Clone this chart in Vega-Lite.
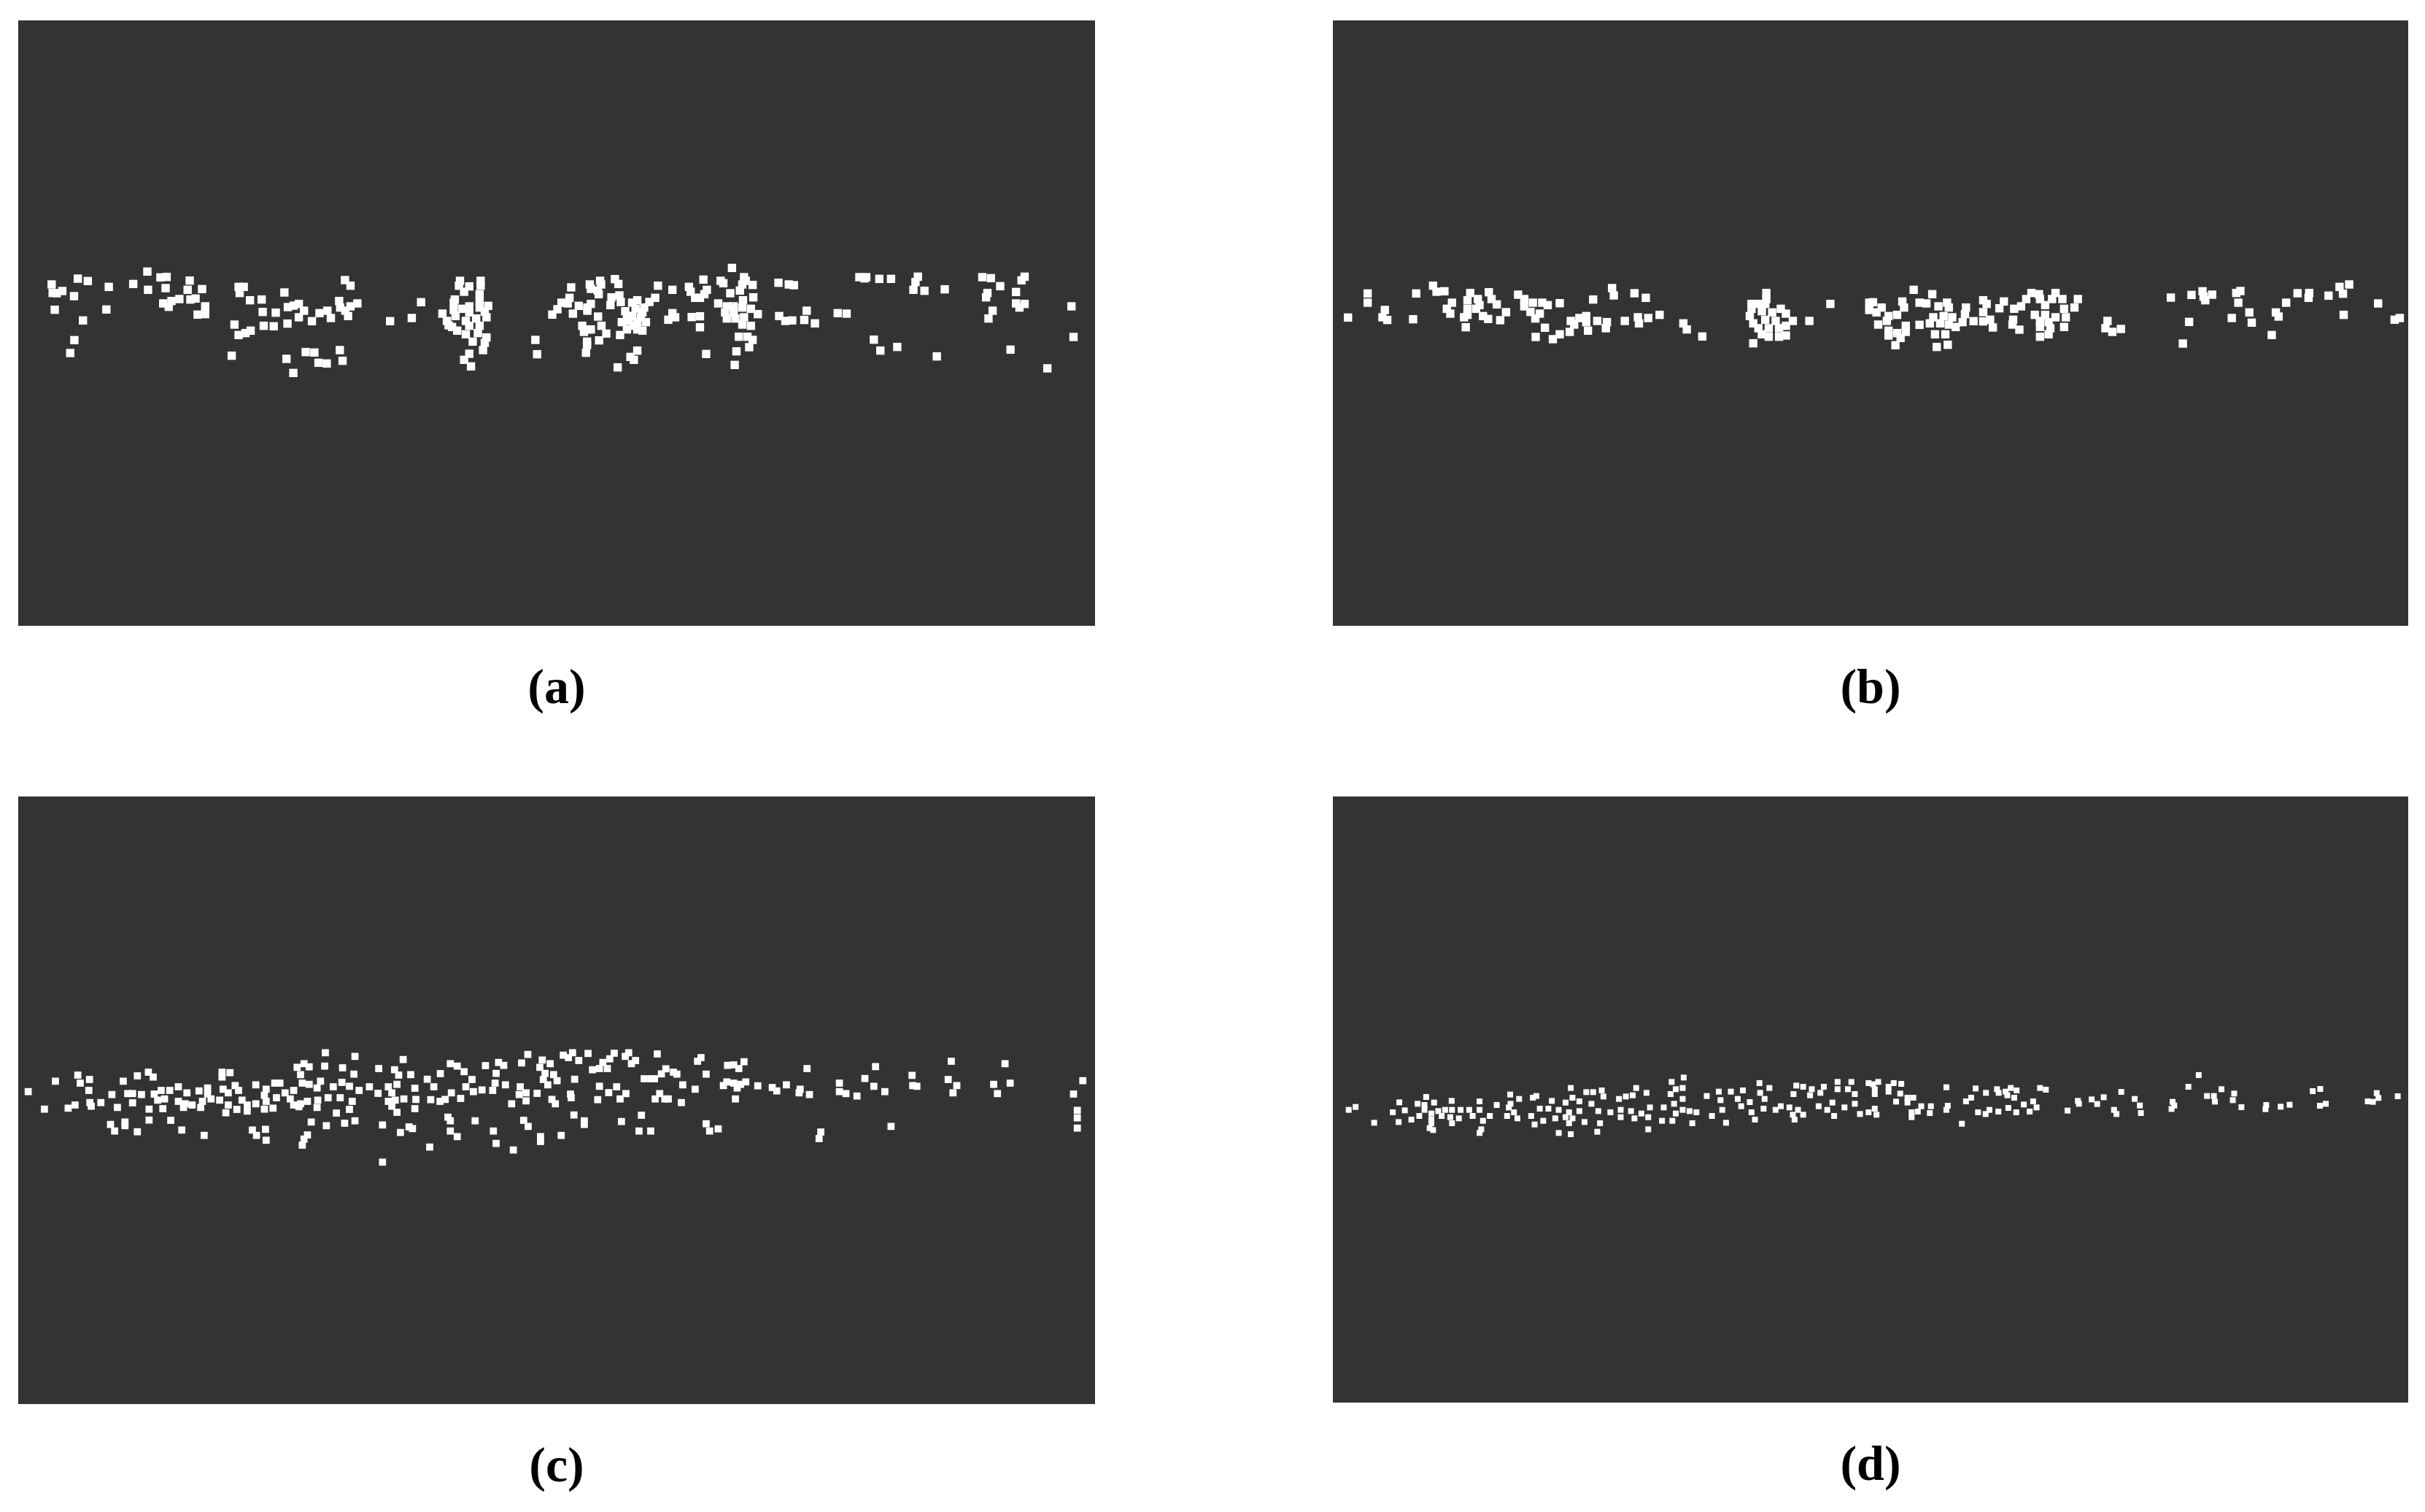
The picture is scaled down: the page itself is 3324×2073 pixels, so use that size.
{"$schema":"https://vega.github.io/schema/vega-lite/v6.json","background":"white","padding":{"left":25,"top":28,"right":0,"bottom":0},"bounds":"flush","columns":2,"spacing":{"row":234,"column":326},"config":{"view":{"fill":"#333333","stroke":null}},
"concat":[
{"width":1476,"height":830,"title":{"text":"(a)","orient":"bottom","anchor":"middle","frame":"group","font":"Liberation Serif","fontSize":68,"fontWeight":"bold","color":"#000000","offset":52},
"data":{"values":[{"x":97,"y":150},{"x":100,"y":185},{"x":128,"y":177},{"x":112,"y":186},{"x":173,"y":126},{"x":202,"y":136},{"x":162,"y":198},{"x":263,"y":160},{"x":334,"y":148},{"x":375,"y":97},{"x":413,"y":121},{"x":431,"y":119},{"x":498,"y":134},{"x":377,"y":172},{"x":428,"y":165},{"x":492,"y":172},{"x":534,"y":169},{"x":106,"y":254},{"x":256,"y":253},{"x":188,"y":298},{"x":163,"y":379},{"x":151,"y":432},{"x":421,"y":228},{"x":437,"y":242},{"x":445,"y":218},{"x":468,"y":210},{"x":500,"y":212},{"x":515,"y":208},{"x":543,"y":240},{"x":521,"y":274},{"x":543,"y":272},{"x":640,"y":160},{"x":655,"y":160},{"x":643,"y":185},{"x":673,"y":215},{"x":707,"y":212},{"x":773,"y":183},{"x":949,"y":132},{"x":965,"y":155},{"x":710,"y":263},{"x":748,"y":266},{"x":783,"y":243},{"x":800,"y":237},{"x":815,"y":230},{"x":830,"y":258},{"x":815,"y":285},{"x":875,"y":268},{"x":898,"y":258},{"x":908,"y":288},{"x":853,"y":301},{"x":782,"y":311},{"x":742,"y":322},{"x":713,"y":320},{"x":628,"y":315},{"x":640,"y":358},{"x":660,"y":350},{"x":675,"y":340},{"x":932,"y":218},{"x":935,"y":245},{"x":950,"y":258},{"x":958,"y":280},{"x":965,"y":240},{"x":985,"y":228},{"x":620,"y":443},{"x":779,"y":456},{"x":835,"y":428},{"x":860,"y":430},{"x":872,"y":472},{"x":896,"y":475},{"x":934,"y":420},{"x":942,"y":464},{"x":799,"y":514},{"x":1170,"y":223},{"x":1143,"y":288},{"x":1080,"y":301},{"x":1283,"y":135},{"x":1343,"y":135},{"x":1343,"y":155},{"x":1310,"y":158},{"x":1280,"y":155},{"x":1295,"y":180},{"x":1340,"y":190},{"x":1268,"y":212},{"x":1265,"y":225},{"x":1232,"y":270},{"x":1340,"y":220},{"x":1365,"y":238},{"x":1310,"y":240},{"x":1340,"y":245},{"x":1290,"y":250},{"x":1265,"y":255},{"x":1270,"y":280},{"x":1355,"y":262},{"x":1310,"y":265},{"x":1330,"y":290},{"x":1360,"y":285},{"x":1300,"y":300},{"x":1245,"y":300},{"x":1250,"y":318},{"x":1275,"y":340},{"x":1310,"y":320},{"x":1340,"y":320},{"x":1260,"y":325},{"x":1300,"y":355},{"x":1335,"y":350},{"x":1320,"y":385},{"x":1350,"y":420},{"x":1355,"y":390},{"x":1310,"y":435},{"x":1295,"y":460},{"x":1315,"y":487},{"x":1360,"y":368},{"x":1502,"y":378},{"x":1507,"y":437},{"x":1551,"y":274},{"x":1566,"y":252},
{"x":1606,"y":162},{"x":1660,"y":150},{"x":1663,"y":168},{"x":1690,"y":135},{"x":1693,"y":150},{"x":1683,"y":175},{"x":1686,"y":190},{"x":1733,"y":128},{"x":1743,"y":148},{"x":1858,"y":155},{"x":1900,"y":172},{"x":1850,"y":205},{"x":1601,"y":205},{"x":1596,"y":228},{"x":1578,"y":225},{"x":1628,"y":238},{"x":1653,"y":245},{"x":1663,"y":230},{"x":1653,"y":258},{"x":1723,"y":203},{"x":1746,"y":195},{"x":1750,"y":222},{"x":1720,"y":235},{"x":1611,"y":270},{"x":1684,"y":282},{"x":1694,"y":320},{"x":1638,"y":320},{"x":1653,"y":335},{"x":1643,"y":345},{"x":1663,"y":335},{"x":1708,"y":352},{"x":1748,"y":358},{"x":1687,"y":380},{"x":1652,"y":385},{"x":1652,"y":400},{"x":1649,"y":431},{"x":1798,"y":422},{"x":1778,"y":448},{"x":1788,"y":460},{"x":1741,"y":491},{"x":1798,"y":215},{"x":1783,"y":225},{"x":1833,"y":222},{"x":1818,"y":245},{"x":1763,"y":260},{"x":1793,"y":250},{"x":1813,"y":265},{"x":1783,"y":280},{"x":1753,"y":305},{"x":1773,"y":300},{"x":1798,"y":305},{"x":1823,"y":305},{"x":1768,"y":335},{"x":1798,"y":335},{"x":1813,"y":340},{"x":1788,"y":320},{"x":1768,"y":280},{"x":1808,"y":285},{"x":1900,"y":268},{"x":1888,"y":295},{"x":1908,"y":285},{"x":1956,"y":284},{"x":1980,"y":281},{"x":1980,"y":326},{"x":1998,"y":436},{"x":2073,"y":82},{"x":1990,"y":130},{"x":2040,"y":135},{"x":2048,"y":145},{"x":2108,"y":120},{"x":2113,"y":135},{"x":2103,"y":150},{"x":2133,"y":152},{"x":1948,"y":160},{"x":1953,"y":180},{"x":1966,"y":205},{"x":1980,"y":205},{"x":2000,"y":172},{"x":1993,"y":190},{"x":2068,"y":186},{"x":2096,"y":175},{"x":2135,"y":203},{"x":2105,"y":215},{"x":2033,"y":228},{"x":2058,"y":240},{"x":2078,"y":240},{"x":2103,"y":245},{"x":2128,"y":250},{"x":2053,"y":265},{"x":2078,"y":265},{"x":2148,"y":272},{"x":2058,"y":290},{"x":2083,"y":290},{"x":2108,"y":285},{"x":2103,"y":315},{"x":2128,"y":320},{"x":2093,"y":365},{"x":2118,"y":365},{"x":2133,"y":378},{"x":2123,"y":408},{"x":2086,"y":425},{"x":2081,"y":481},{"x":2208,"y":143},{"x":2238,"y":150},{"x":2253,"y":153},{"x":2290,"y":258},{"x":2210,"y":280},{"x":2228,"y":300},{"x":2248,"y":298},{"x":2283,"y":296},{"x":2314,"y":310},{"x":2380,"y":268},{"x":2406,"y":270},{"x":2443,"y":120},{"x":2458,"y":125},{"x":2463,"y":120},{"x":2501,"y":127},{"x":2535,"y":127},{"x":2613,"y":118},{"x":2606,"y":140},{"x":2600,"y":172},{"x":2632,"y":176},{"x":2691,"y":170},{"x":2485,"y":377},{"x":2504,"y":422},{"x":2553,"y":407},{"x":2668,"y":446},{"x":2800,"y":120},{"x":2825,"y":124},{"x":2852,"y":157},{"x":2923,"y":118},{"x":2914,"y":133},{"x":2898,"y":181},{"x":2815,"y":185},{"x":2811,"y":203},{"x":2830,"y":258},{"x":2818,"y":290},{"x":2898,"y":228},{"x":2923,"y":230},{"x":2908,"y":245},{"x":3059,"y":240},{"x":3065,"y":366},{"x":2882,"y":418},{"x":2989,"y":495}]},
"mark":{"type":"square","filled":true,"color":"#ffffff","opacity":1,"size":130},
"encoding":{"x":{"field":"x","type":"quantitative","axis":null,"scale":{"domain":[0,3127.5],"nice":false,"zero":false}},"y":{"field":"y","type":"quantitative","axis":null,"scale":{"domain":[1554,-936],"nice":false,"zero":false}}}},
{"width":1474,"height":830,"title":{"text":"(b)","orient":"bottom","anchor":"middle","frame":"group","font":"Liberation Serif","fontSize":68,"fontWeight":"bold","color":"#000000","offset":52},
"data":{"values":[{"x":48,"y":226},{"x":105,"y":127},{"x":105,"y":165},{"x":155,"y":195},{"x":148,"y":225},{"x":162,"y":236},{"x":237,"y":233},{"x":246,"y":127},{"x":295,"y":95},{"x":305,"y":120},{"x":328,"y":118},{"x":403,"y":125},{"x":457,"y":122},{"x":350,"y":165},{"x":335,"y":190},{"x":345,"y":210},{"x":395,"y":155},{"x":425,"y":150},{"x":465,"y":150},{"x":480,"y":172},{"x":395,"y":190},{"x":430,"y":175},{"x":420,"y":190},{"x":385,"y":225},{"x":395,"y":215},{"x":440,"y":220},{"x":455,"y":232},{"x":490,"y":237},{"x":507,"y":204},{"x":390,"y":266},{"x":542,"y":132},{"x":560,"y":150},{"x":585,"y":165},{"x":612,"y":165},{"x":628,"y":175},{"x":663,"y":167},{"x":560,"y":180},{"x":578,"y":203},{"x":605,"y":210},{"x":592,"y":230},{"x":620,"y":268},{"x":593,"y":306},{"x":643,"y":315},{"x":663,"y":295},{"x":692,"y":285},{"x":705,"y":255},{"x":695,"y":240},{"x":720,"y":228},{"x":740,"y":220},{"x":740,"y":245},{"x":745,"y":280},{"x":772,"y":240},{"x":800,"y":245},{"x":797,"y":270},{"x":852,"y":240},{"x":890,"y":225},{"x":893,"y":250},{"x":920,"y":228},{"x":953,"y":215},{"x":760,"y":152},{"x":815,"y":105},{"x":820,"y":135},{"x":880,"y":126},{"x":913,"y":145},{"x":1022,"y":250},{"x":1032,"y":275},{"x":1077,"y":304},{"x":1263,"y":125},{"x":1263,"y":150},{"x":1220,"y":170},{"x":1240,"y":170},{"x":1260,"y":170},{"x":1220,"y":190},{"x":1305,"y":190},{"x":1215,"y":220},{"x":1250,"y":200},{"x":1280,"y":205},{"x":1320,"y":210},{"x":1340,"y":240},{"x":1225,"y":250},{"x":1260,"y":235},{"x":1290,"y":240},{"x":1320,"y":260},{"x":1240,"y":270},{"x":1270,"y":270},{"x":1300,"y":270},{"x":1250,"y":295},{"x":1270,"y":305},{"x":1300,"y":305},{"x":1320,"y":300},{"x":1225,"y":332},{"x":1449,"y":170},{"x":1388,"y":240},{"x":1562,"y":165},{"x":1562,"y":195},
{"x":1573,"y":163},{"x":1598,"y":185},{"x":1583,"y":205},{"x":1691,"y":112},{"x":1745,"y":130},{"x":1658,"y":160},{"x":1663,"y":185},{"x":1708,"y":165},{"x":1728,"y":168},{"x":1763,"y":180},{"x":1788,"y":165},{"x":1793,"y":185},{"x":1843,"y":185},{"x":1893,"y":155},{"x":1903,"y":170},{"x":1840,"y":212},{"x":1893,"y":204},{"x":1953,"y":160},{"x":1940,"y":188},{"x":1618,"y":220},{"x":1643,"y":215},{"x":1613,"y":240},{"x":1588,"y":255},{"x":1668,"y":260},{"x":1618,"y":280},{"x":1643,"y":290},{"x":1668,"y":285},{"x":1618,"y":300},{"x":1653,"y":310},{"x":1638,"y":340},{"x":1708,"y":256},{"x":1748,"y":225},{"x":1778,"y":220},{"x":1803,"y":225},{"x":1738,"y":250},{"x":1768,"y":250},{"x":1793,"y":255},{"x":1833,"y":245},{"x":1813,"y":265},{"x":1753,"y":295},{"x":1783,"y":295},{"x":1758,"y":347},{"x":1790,"y":338},{"x":1865,"y":241},{"x":1893,"y":242},{"x":1913,"y":235},{"x":1921,"y":267},{"x":1983,"y":190},{"x":2003,"y":180},{"x":2033,"y":125},{"x":2055,"y":130},{"x":2018,"y":150},{"x":2058,"y":150},{"x":2073,"y":175},{"x":2103,"y":125},{"x":2093,"y":150},{"x":2123,"y":150},{"x":2168,"y":150},{"x":2158,"y":185},{"x":2128,"y":190},{"x":1980,"y":235},{"x":1978,"y":255},{"x":1998,"y":276},{"x":2043,"y":215},{"x":2073,"y":215},{"x":2103,"y":225},{"x":2133,"y":225},{"x":2058,"y":240},{"x":2083,"y":245},{"x":2058,"y":265},{"x":2088,"y":270},{"x":2128,"y":265},{"x":2058,"y":305},{"x":2083,"y":295},{"x":2254,"y":240},{"x":2248,"y":270},{"x":2268,"y":285},{"x":2293,"y":273},{"x":2438,"y":144},{"x":2498,"y":133},{"x":2530,"y":118},{"x":2533,"y":140},{"x":2538,"y":155},{"x":2558,"y":132},{"x":2628,"y":125},{"x":2640,"y":117},{"x":2634,"y":165},{"x":2491,"y":244},{"x":2473,"y":333},{"x":2615,"y":228},{"x":2666,"y":205},{"x":2673,"y":247},{"x":2731,"y":298},{"x":2743,"y":205},{"x":2751,"y":222},{"x":2773,"y":165},{"x":2806,"y":126},{"x":2840,"y":125},{"x":2838,"y":145},{"x":2896,"y":136},{"x":2928,"y":100},{"x":2938,"y":128},{"x":2956,"y":90},{"x":3040,"y":168},{"x":2940,"y":215},{"x":3088,"y":235},{"x":3103,"y":228}]},
"mark":{"type":"square","filled":true,"color":"#ffffff","opacity":1,"size":130},
"encoding":{"x":{"field":"x","type":"quantitative","axis":null,"scale":{"domain":[4,3127.5],"nice":false,"zero":false}},"y":{"field":"y","type":"quantitative","axis":null,"scale":{"domain":[1494,-996],"nice":false,"zero":false}}}},
{"width":1476,"height":833,"title":{"text":"(c)","orient":"bottom","anchor":"middle","frame":"group","font":"Liberation Serif","fontSize":68,"fontWeight":"bold","color":"#000000","offset":52},
"data":{"values":[{"x":29,"y":200},{"x":76,"y":272},{"x":108,"y":157},{"x":173,"y":132},{"x":207,"y":150},{"x":180,"y":165},{"x":205,"y":195},{"x":145,"y":268},{"x":165,"y":255},{"x":208,"y":245},{"x":212,"y":260},{"x":240,"y":245},{"x":288,"y":265},{"x":272,"y":212},{"x":305,"y":157},{"x":318,"y":208},{"x":332,"y":208},{"x":358,"y":212},{"x":332,"y":246},{"x":346,"y":135},{"x":378,"y":120},{"x":392,"y":140},{"x":380,"y":272},{"x":420,"y":270},{"x":380,"y":317},{"x":443,"y":318},{"x":268,"y":335},{"x":310,"y":325},{"x":310,"y":340},{"x":280,"y":362},{"x":346,"y":365},{"x":475,"y":358},{"x":540,"y":380},{"x":395,"y":210},{"x":415,"y":195},{"x":440,"y":195},{"x":465,"y":180},{"x":490,"y":205},{"x":525,"y":197},{"x":550,"y":185},{"x":550,"y":210},{"x":595,"y":190},{"x":630,"y":175},{"x":610,"y":205},{"x":640,"y":195},{"x":690,"y":172},{"x":720,"y":190},{"x":745,"y":165},{"x":760,"y":165},{"x":775,"y":205},{"x":800,"y":195},{"x":825,"y":165},{"x":845,"y":170},{"x":878,"y":157},{"x":868,"y":185},{"x":915,"y":180},{"x":940,"y":162},{"x":962,"y":178},{"x":990,"y":195},{"x":1020,"y":180},{"x":1045,"y":207},{"x":405,"y":235},{"x":425,"y":230},{"x":465,"y":240},{"x":485,"y":250},{"x":505,"y":255},{"x":535,"y":240},{"x":560,"y":230},{"x":585,"y":235},{"x":610,"y":255},{"x":650,"y":235},{"x":665,"y":255},{"x":690,"y":250},{"x":715,"y":215},{"x":720,"y":240},{"x":750,"y":225},{"x":790,"y":230},{"x":820,"y":250},{"x":840,"y":240},{"x":870,"y":235},{"x":900,"y":225},{"x":935,"y":225},{"x":970,"y":240},{"x":480,"y":265},{"x":530,"y":265},{"x":635,"y":273},{"x":665,"y":280},{"x":715,"y":272},{"x":740,"y":268},{"x":815,"y":262},{"x":868,"y":265},{"x":603,"y":287},{"x":962,"y":273},{"x":924,"y":288},{"x":800,"y":255},{"x":592,"y":120},{"x":592,"y":140},{"x":615,"y":122},{"x":810,"y":100},{"x":830,"y":85},{"x":845,"y":98},{"x":820,"y":130},{"x":892,"y":40},{"x":890,"y":95},{"x":978,"y":55},{"x":942,"y":102},{"x":975,"y":128},{"x":1047,"y":105},{"x":1118,"y":68},{"x":1093,"y":110},{"x":1105,"y":132},{"x":1140,"y":130},{"x":1188,"y":149},{"x":1226,"y":126},{"x":1255,"y":85},{"x":1275,"y":95},{"x":1295,"y":118},{"x":1357,"y":93},{"x":1395,"y":80},{"x":1410,"y":92},{"x":1388,"y":125},{"x":1318,"y":150},{"x":1480,"y":47},{"x":1462,"y":82},{"x":1522,"y":70},{"x":1515,"y":100},{"x":1545,"y":85},{"x":1530,"y":125},{"x":1525,"y":150},{"x":1555,"y":130},{"x":1565,"y":155},{"x":1538,"y":172},{"x":1075,"y":180},{"x":1100,"y":170},{"x":1085,"y":205},{"x":1075,"y":240},{"x":1095,"y":235},{"x":1120,"y":230},{"x":1085,"y":260},{"x":1100,"y":285},{"x":1155,"y":232},{"x":1198,"y":233},{"x":1225,"y":240},{"x":1240,"y":232},{"x":1152,"y":186},{"x":1207,"y":180},{"x":1258,"y":205},{"x":1285,"y":228},{"x":1300,"y":180},{"x":1322,"y":200},{"x":1347,"y":193},{"x":1385,"y":165},{"x":1415,"y":172},{"x":1378,"y":195},{"x":1458,"y":180},{"x":1455,"y":212},{"x":1475,"y":205},{"x":1475,"y":238},{"x":1433,"y":250},{"x":1507,"y":207},{"x":1550,"y":232},{"x":1560,"y":250},{"x":1152,"y":270},{"x":851,"y":325},{"x":895,"y":340},{"x":948,"y":330},{"x":978,"y":320},{"x":1058,"y":337},{"x":1248,"y":305},{"x":1255,"y":320},{"x":1327,"y":320},{"x":1468,"y":318},{"x":1481,"y":343},{"x":1135,"y":345},{"x":1145,"y":352},{"x":1110,"y":368},{"x":1255,"y":362},{"x":1275,"y":385},{"x":1380,"y":362},{"x":680,"y":358},{"x":692,"y":380},{"x":718,"y":355},{"x":720,"y":400},{"x":840,"y":378},{"x":830,"y":395},{"x":825,"y":420},{"x":1388,"y":413},{"x":1195,"y":428},{"x":1438,"y":440},{"x":1517,"y":405},{"x":1517,"y":385},{"x":1058,"y":490},
{"x":1583,"y":50},{"x":1610,"y":40},{"x":1598,"y":60},{"x":1628,"y":72},{"x":1655,"y":43},{"x":1668,"y":110},{"x":1688,"y":105},{"x":1698,"y":80},{"x":1718,"y":65},{"x":1731,"y":42},{"x":1773,"y":40},{"x":1763,"y":55},{"x":1781,"y":85},{"x":1793,"y":72},{"x":1711,"y":105},{"x":1856,"y":45},{"x":1973,"y":75},{"x":1983,"y":60},{"x":2060,"y":92},{"x":2078,"y":90},{"x":2093,"y":105},{"x":2108,"y":77},{"x":2291,"y":105},{"x":2490,"y":97},{"x":2710,"y":75},{"x":2866,"y":85},{"x":1616,"y":149},{"x":1818,"y":147},{"x":1838,"y":147},{"x":1848,"y":147},{"x":1868,"y":127},{"x":1881,"y":106},{"x":1903,"y":120},{"x":1913,"y":128},{"x":1998,"y":128},{"x":1688,"y":178},{"x":1738,"y":180},{"x":1930,"y":172},{"x":1966,"y":190},{"x":1715,"y":204},{"x":1765,"y":208},{"x":1604,"y":210},{"x":1606,"y":225},{"x":1683,"y":233},{"x":1748,"y":230},{"x":1863,"y":208},{"x":1850,"y":230},{"x":1878,"y":230},{"x":1888,"y":230},{"x":1926,"y":245},{"x":2083,"y":230},{"x":2058,"y":160},{"x":2078,"y":165},{"x":2098,"y":170},{"x":2113,"y":160},{"x":2048,"y":175},{"x":2088,"y":185},{"x":2148,"y":176},{"x":2190,"y":183},{"x":2203,"y":197},{"x":2231,"y":172},{"x":2271,"y":190},{"x":2268,"y":205},{"x":2298,"y":212},{"x":2385,"y":165},{"x":2385,"y":200},{"x":2404,"y":208},{"x":2436,"y":218},{"x":2459,"y":146},{"x":2485,"y":178},{"x":2517,"y":200},{"x":2596,"y":133},{"x":2598,"y":175},{"x":2610,"y":178},{"x":2701,"y":150},{"x":2726,"y":175},{"x":2715,"y":205},{"x":2833,"y":170},{"x":2881,"y":165},{"x":2844,"y":208},{"x":3092,"y":155},{"x":3065,"y":210},{"x":3076,"y":277},{"x":3076,"y":308},{"x":3076,"y":350},{"x":1614,"y":296},{"x":1644,"y":320},{"x":1644,"y":335},{"x":1810,"y":297},{"x":1752,"y":323},{"x":1998,"y":332},{"x":2008,"y":362},{"x":2033,"y":353},{"x":1803,"y":362},{"x":1837,"y":362},{"x":1577,"y":380},{"x":2331,"y":366},{"x":2326,"y":393},{"x":2535,"y":343}]},
"mark":{"type":"square","filled":true,"color":"#ffffff","opacity":1,"size":95},
"encoding":{"x":{"field":"x","type":"quantitative","axis":null,"scale":{"domain":[0,3127.5],"nice":false,"zero":false}},"y":{"field":"y","type":"quantitative","axis":null,"scale":{"domain":[1485,-1014],"nice":false,"zero":false}}}},
{"width":1474,"height":831,"title":{"text":"(d)","orient":"bottom","anchor":"middle","frame":"group","font":"Liberation Serif","fontSize":68,"fontWeight":"bold","color":"#000000","offset":52},
"data":{"values":[{"x":50,"y":215},{"x":70,"y":203},{"x":124,"y":268},{"x":197,"y":184},{"x":178,"y":225},{"x":213,"y":217},{"x":195,"y":265},{"x":232,"y":255},{"x":255,"y":240},{"x":275,"y":162},{"x":250,"y":190},{"x":270,"y":195},{"x":298,"y":185},{"x":270,"y":215},{"x":349,"y":178},{"x":430,"y":180},{"x":519,"y":152},{"x":545,"y":170},{"x":520,"y":190},{"x":585,"y":165},{"x":595,"y":158},{"x":695,"y":125},{"x":740,"y":142},{"x":760,"y":142},{"x":785,"y":135},{"x":790,"y":160},{"x":885,"y":125},{"x":915,"y":145},{"x":875,"y":155},{"x":855,"y":160},{"x":835,"y":170},{"x":720,"y":180},{"x":700,"y":165},{"x":640,"y":178},{"x":680,"y":185},{"x":290,"y":230},{"x":310,"y":220},{"x":330,"y":215},{"x":350,"y":215},{"x":375,"y":215},{"x":400,"y":215},{"x":430,"y":215},{"x":480,"y":195},{"x":515,"y":205},{"x":530,"y":225},{"x":290,"y":255},{"x":320,"y":240},{"x":345,"y":245},{"x":370,"y":250},{"x":410,"y":240},{"x":440,"y":260},{"x":460,"y":240},{"x":510,"y":240},{"x":540,"y":250},{"x":580,"y":240},{"x":605,"y":210},{"x":630,"y":210},{"x":660,"y":215},{"x":690,"y":225},{"x":720,"y":220},{"x":755,"y":190},{"x":775,"y":220},{"x":810,"y":225},{"x":840,"y":215},{"x":870,"y":220},{"x":900,"y":230},{"x":925,"y":205},{"x":965,"y":205},{"x":995,"y":190},{"x":1000,"y":230},{"x":290,"y":270},{"x":285,"y":290},{"x":295,"y":298},{"x":350,"y":270},{"x":590,"y":275},{"x":615,"y":260},{"x":650,"y":250},{"x":680,"y":245},{"x":700,"y":250},{"x":735,"y":265},{"x":690,"y":270},{"x":780,"y":270},{"x":840,"y":245},{"x":880,"y":250},{"x":920,"y":245},{"x":960,"y":260},{"x":990,"y":260},{"x":1020,"y":215},{"x":1040,"y":220},{"x":1060,"y":225},{"x":1105,"y":240},{"x":435,"y":295},{"x":430,"y":310},{"x":660,"y":310},{"x":695,"y":315},{"x":772,"y":305},{"x":920,"y":295},{"x":1048,"y":270},{"x":1146,"y":268},{"x":988,"y":100},{"x":1023,"y":82},{"x":1000,"y":130},{"x":1020,"y":125},{"x":985,"y":150},{"x":1020,"y":170},{"x":1090,"y":158},{"x":1125,"y":140},{"x":1130,"y":175},{"x":1160,"y":140},{"x":1195,"y":135},{"x":1180,"y":170},{"x":1190,"y":200},{"x":1215,"y":183},{"x":1220,"y":225},{"x":1230,"y":255},{"x":1135,"y":215},{"x":1243,"y":105},{"x":1272,"y":125},{"x":1245,"y":145},{"x":1258,"y":170},{"x":1255,"y":210},{"x":1290,"y":215},{"x":1305,"y":200},{"x":1330,"y":205},{"x":1355,"y":215},{"x":1340,"y":235},{"x":1370,"y":235},{"x":1345,"y":255},{"x":1350,"y":115},{"x":1370,"y":120},{"x":1395,"y":130},{"x":1390,"y":155},{"x":1430,"y":120},{"x":1342,"y":150},{"x":1415,"y":200},{"x":1420,"y":145},{"x":1470,"y":100},{"x":1510,"y":100},{"x":1470,"y":130},{"x":1500,"y":130},{"x":1520,"y":150},{"x":1520,"y":190},{"x":1455,"y":185},{"x":1440,"y":215},{"x":1460,"y":240},{"x":1490,"y":205},{"x":1535,"y":232},{"x":1560,"y":225},{"x":1560,"y":105},
{"x":1573,"y":110},{"x":1588,"y":100},{"x":1578,"y":130},{"x":1578,"y":150},{"x":1618,"y":120},{"x":1633,"y":105},{"x":1618,"y":140},{"x":1655,"y":108},{"x":1652,"y":148},{"x":1640,"y":181},{"x":1673,"y":165},{"x":1690,"y":165},{"x":1673,"y":185},{"x":1578,"y":210},{"x":1583,"y":235},{"x":1685,"y":225},{"x":1685,"y":245},{"x":1703,"y":222},{"x":1713,"y":200},{"x":1741,"y":200},{"x":1738,"y":228},{"x":1786,"y":122},{"x":1790,"y":198},{"x":1786,"y":215},{"x":1843,"y":180},{"x":1858,"y":165},{"x":1871,"y":127},{"x":1901,"y":145},{"x":1831,"y":272},{"x":1933,"y":130},{"x":1938,"y":145},{"x":1958,"y":140},{"x":1973,"y":125},{"x":1963,"y":155},{"x":1990,"y":135},{"x":1983,"y":165},{"x":2058,"y":125},{"x":2075,"y":132},{"x":1878,"y":225},{"x":1900,"y":232},{"x":1911,"y":215},{"x":1937,"y":222},{"x":1966,"y":207},{"x":1989,"y":225},{"x":2011,"y":193},{"x":2028,"y":222},{"x":2038,"y":180},{"x":2048,"y":205},{"x":2138,"y":218},{"x":2168,"y":178},{"x":2171,"y":190},{"x":2208,"y":172},{"x":2224,"y":191},{"x":2243,"y":163},{"x":2294,"y":141},{"x":2273,"y":215},{"x":2280,"y":232},{"x":2333,"y":170},{"x":2348,"y":197},{"x":2351,"y":228},{"x":2443,"y":182},{"x":2448,"y":197},{"x":2440,"y":211},{"x":2489,"y":120},{"x":2519,"y":72},{"x":2543,"y":158},{"x":2563,"y":158},{"x":2566,"y":181},{"x":2585,"y":130},{"x":2622,"y":148},{"x":2618,"y":175},{"x":2643,"y":204},{"x":2715,"y":195},{"x":2713,"y":212},{"x":2757,"y":202},{"x":2783,"y":194},{"x":2850,"y":138},{"x":2872,"y":129},{"x":2871,"y":198},{"x":2888,"y":190},{"x":3010,"y":180},{"x":3025,"y":182},{"x":3036,"y":146},{"x":3041,"y":166},{"x":3097,"y":159}]},
"mark":{"type":"square","filled":true,"color":"#ffffff","opacity":1,"size":64},
"encoding":{"x":{"field":"x","type":"quantitative","axis":null,"scale":{"domain":[4,3127.5],"nice":false,"zero":false}},"y":{"field":"y","type":"quantitative","axis":null,"scale":{"domain":[1419,-1074],"nice":false,"zero":false}}}}]}
